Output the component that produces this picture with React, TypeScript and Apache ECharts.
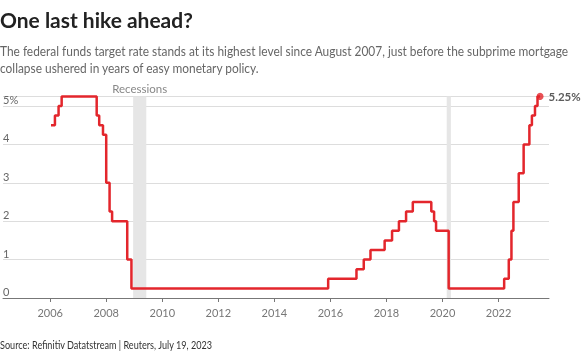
import React, { useEffect, useRef } from "react";
import * as echarts from "echarts";

// Fed funds target rate (upper bound), decimal-year dates of each level change
const rateYears = [
  2006.03, 2006.17, 2006.30, 2006.41, 2007.66, 2007.75, 2007.885, 2008.0, 2008.12, 2008.21,
  2008.75, 2008.90, 2015.92, 2016.93, 2017.19, 2017.43, 2017.935, 2018.20, 2018.445, 2018.70,
  2018.94, 2019.60, 2019.70, 2019.77, 2020.22, 2022.20, 2022.365, 2022.46, 2022.53, 2022.72,
  2022.895, 2023.10, 2023.19, 2023.30, 2023.39, 2023.48,
];
const rateValues = [
  4.5, 4.75, 5.0, 5.25, 4.75, 4.5, 4.25, 3.0, 2.25, 2.0,
  1.0, 0.25, 0.5, 0.75, 1.0, 1.25, 1.5, 1.75, 2.0, 2.25,
  2.5, 2.25, 2.0, 1.75, 0.25, 0.5, 1.0, 1.75, 2.5, 3.25,
  4.0, 4.5, 4.75, 5.0, 5.25, 5.25,
];
const recessionStarts = [2008.96, 2020.15];
const recessionEnds = [2009.43, 2020.30];
const xTickYears = [2006, 2008, 2010, 2012, 2014, 2016, 2018, 2020, 2022];
const yTickValues = [0, 1, 2, 3, 4, 5];

const titleText = "One last hike ahead?";
const subtitleLines = [
  "The federal funds target rate stands at its highest level since August 2007, just before the subprime mortgage",
  "collapse ushered in years of easy monetary policy.",
];
const sourceText = "Source: Refinitiv Datatstream | Reuters, July 19, 2023";
const endLabelText = "5.25%";

const FONT = "Lato, 'Open Sans', sans-serif";

function fitScale(text: string, font: string, target: number): number {
  const ctx = document.createElement("canvas").getContext("2d");
  if (!ctx) return 1;
  ctx.font = font;
  const w = ctx.measureText(text).width;
  return w > 0 ? target / w : 1;
}

export default function App() {
  const ref = useRef<HTMLDivElement>(null);
  useEffect(() => {
    if (!ref.current) return;
    const chart = echarts.init(ref.current, undefined, { renderer: "svg" });
    const lineData = rateYears.map((x, i) => [x, rateValues[i]]);
    const last = lineData[lineData.length - 1];

    const titleScale = fitScale(titleText, "bold 20px Lato", 193);
    const subScale = fitScale(subtitleLines[0], "14px Lato", 569);
    const srcScale = fitScale(sourceText, "11px Lato", 213);

    chart.setOption({
      animation: false,
      grid: { left: 0, right: 36, top: 96.4, bottom: 56, containLabel: false },
      xAxis: {
        type: "value",
        min: 2004.317,
        max: 2023.8,
        splitLine: { show: false },
        axisLine: { show: true, lineStyle: { color: "#777", width: 1 } },
        axisTick: {
          show: true,
          length: 4,
          lineStyle: { color: "#777" },
          customValues: xTickYears,
        },
        axisLabel: {
          customValues: xTickYears,
          color: "#777",
          fontFamily: FONT,
          fontSize: 11,
          margin: 9,
          formatter: (v: number) => String(Math.round(v)),
        },
      },
      yAxis: {
        type: "value",
        min: 0,
        max: 5.25,
        interval: 1,
        axisLine: { show: false },
        axisTick: { show: false },
        splitLine: {
          show: true,
          lineStyle: { color: "#ddd", width: 1 },
        },
        axisLabel: {
          inside: true,
          margin: 0,
          customValues: yTickValues,
          verticalAlign: "bottom",
          align: "left",
          padding: [0, 0, 1, 0],
          color: "#666",
          fontFamily: FONT,
          fontSize: 11,
          formatter: (v: number) => (v === 5 ? "5%" : String(v)),
        },
      },
      series: [
        {
          type: "line",
          data: lineData,
          step: "end",
          showSymbol: false,
          clip: false,
          lineStyle: { color: "#e3262c", width: 2.5 },
          z: 3,
          markArea: {
            silent: true,
            itemStyle: { color: "#e6e6e6" },
            label: {
              show: true,
              position: "top",
              distance: 2,
              color: "#888",
              fontFamily: FONT,
              fontSize: 11.5,
            },
            data: recessionStarts.map((s, i) => [
              { name: i === 0 ? "Recessions" : "", xAxis: s, yAxis: 0 },
              { xAxis: recessionEnds[i], yAxis: 5.25 },
            ]),
          },
        },
        {
          type: "scatter",
          data: [last],
          symbol: "circle",
          symbolSize: 7,
          itemStyle: { color: "#e3262c" },
          clip: false,
          z: 4,
          label: {
            show: true,
            position: "right",
            distance: 5,
            formatter: () => endLabelText,
            color: "#333",
            fontFamily: FONT,
            fontWeight: "bold",
            fontSize: 11.5,
          },
        },
      ],
      graphic: [
        {
          type: "text",
          x: 0,
          y: 20,
          scaleX: titleScale,
          style: {
            text: titleText,
            font: "bold 20px Lato",
            fill: "#222",
            verticalAlign: "middle",
          },
        },
        ...subtitleLines.map((t, i) => ({
          type: "text",
          x: 0,
          y: 50.5 + i * 16.7,
          scaleX: subScale,
          style: {
            text: t,
            font: "14px Lato",
            fill: "#666",
            verticalAlign: "middle",
          },
        })),
        {
          type: "text",
          x: 0,
          y: 345,
          scaleX: srcScale,
          style: {
            text: sourceText,
            font: "11px Lato",
            fill: "#333",
            verticalAlign: "middle",
          },
        },
      ],
    });
    return () => chart.dispose();
  }, []);
  return (
    <div
      ref={ref}
      style={{ position: "fixed", left: 0, top: 0, width: 585, height: 354 }}
    />
  );
}
